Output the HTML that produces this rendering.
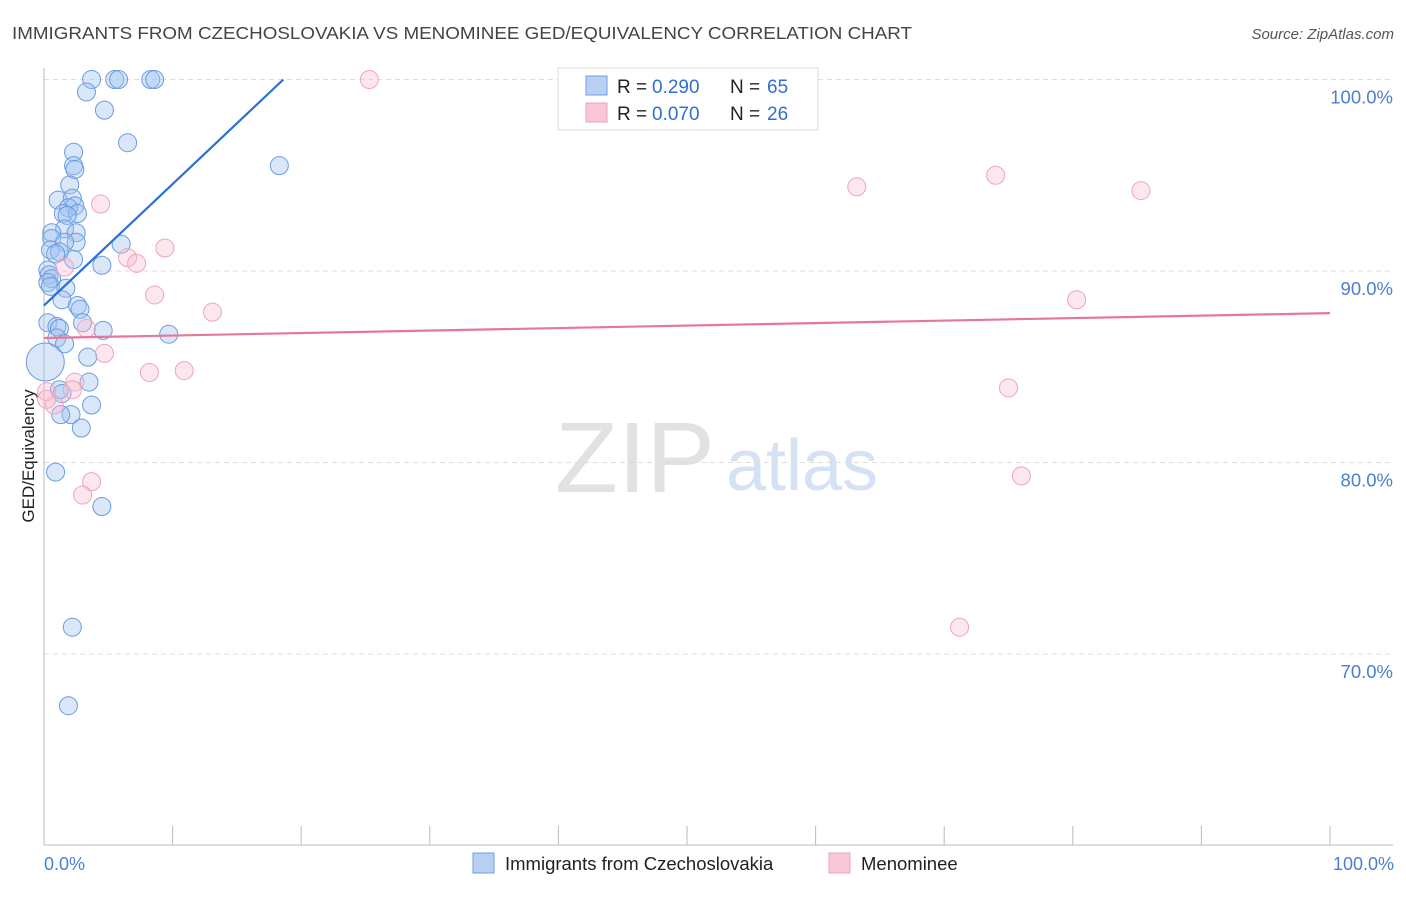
<!DOCTYPE html>
<html><head><meta charset="utf-8"><style>
body{margin:0;background:#fff;font-family:"Liberation Sans",sans-serif;}
svg text{font-family:"Liberation Sans",sans-serif;}
</style></head><body>
<svg id="c" width="1406" height="892" xmlns="http://www.w3.org/2000/svg">
<text x="12" y="39" font-size="17.5" fill="#444" textLength="900" lengthAdjust="spacingAndGlyphs">IMMIGRANTS FROM CZECHOSLOVAKIA VS MENOMINEE GED/EQUIVALENCY CORRELATION CHART</text>
<text x="1394" y="39" font-size="15" fill="#555" font-style="italic" text-anchor="end">Source: ZipAtlas.com</text>
<text x="635" y="492" font-size="100" fill="#e2e2e2" font-family="Liberation Serif" text-anchor="middle" textLength="160" lengthAdjust="spacingAndGlyphs">ZIP</text>
<text x="802" y="490" font-size="72" fill="#d4e2f4" text-anchor="middle">atlas</text>
<g id="grid"></g><g id="axes"></g><g id="pts"></g><g id="lines"></g>
<text transform="translate(34,456) rotate(-90)" font-size="17" fill="#222" text-anchor="middle">GED/Equivalency</text>
<text x="44" y="870" font-size="18" fill="#4a7fd4">0.0%</text>
<text x="1394" y="870" font-size="18" fill="#4a7fd4" text-anchor="end">100.0%</text>
<g>
<rect x="558" y="68" width="260" height="62" fill="#fff" stroke="#ddd"/>
<rect x="586" y="76" width="21" height="19" fill="#b8d0f2" stroke="#6d9ee0"/>
<rect x="586" y="103" width="21" height="19" fill="#f8c8d6" stroke="#eea0b8"/>
<text x="617" y="93" font-size="19" fill="#222">R =</text>
<text x="652" y="93" font-size="19" fill="#2f6fd0">0.290</text>
<text x="730" y="93" font-size="19" fill="#222">N =</text>
<text x="767" y="93" font-size="19" fill="#2f6fd0">65</text>
<text x="617" y="120" font-size="19" fill="#222">R =</text>
<text x="652" y="120" font-size="19" fill="#2f6fd0">0.070</text>
<text x="730" y="120" font-size="19" fill="#222">N =</text>
<text x="767" y="120" font-size="19" fill="#2f6fd0">26</text>
</g>
<g>
<rect x="473" y="853" width="21" height="20" fill="#b8d0f2" stroke="#6d9ee0"/>
<text x="505" y="870" font-size="18.5" fill="#222">Immigrants from Czechoslovakia</text></g>
<g>
<rect x="829" y="853" width="21" height="20" fill="#f8c8d6" stroke="#eea0b8"/>
<text x="861" y="870" font-size="18.5" fill="#222">Menominee</text></g>
</svg>
<script>
const blueX=[3.7,5.5,5.8,8.3,8.6,3.3,4.7,6.5,18.3,2.3,2.3,2.4,2.0,1.1,2.2,2.4,1.9,1.5,2.6,1.8,1.6,2.5,0.6,0.6,2.5,1.6,0.5,1.2,0.9,2.3,6.0,4.5,0.3,0.4,0.6,0.3,0.5,1.7,1.4,2.6,2.8,3.0,0.3,1.0,1.2,4.6,9.7,1.0,1.6,3.4,0.1,3.5,1.2,1.4,3.7,2.1,1.3,2.9,0.9,4.5,2.2,1.9];
const blueY=[100,100,100,100,100,99.35,98.4,96.7,95.5,96.2,95.5,95.3,94.5,93.7,93.8,93.4,93.3,93.0,93.0,92.9,92.2,92.0,92.0,91.7,91.5,91.5,91.1,91.0,90.9,90.6,91.4,90.3,90.05,89.8,89.6,89.4,89.2,89.1,88.5,88.2,88.0,87.3,87.3,87.1,87.0,86.9,86.7,86.5,86.2,85.5,85.25,84.2,83.8,83.6,83.0,82.5,82.5,81.8,79.5,77.7,71.4,67.3];
const pinkX=[25.3,4.4,9.4,6.5,7.2,8.6,13.1,3.3,4.7,8.2,10.9,2.4,2.2,0.2,0.8,3.7,3.0,63.2,74.0,85.3,80.3,75.0,76.0,71.2,1.6,0.2];
const pinkY=[100,93.5,91.2,90.7,90.4,88.75,87.85,87.0,85.7,84.7,84.8,84.2,83.8,83.7,83.0,79.0,78.3,94.4,95.0,94.2,88.5,83.9,79.3,71.4,90.2,83.3];
const yTicks=[100,90,80,70];
const blueTrend=[88.2,151.6];
const pinkTrend=[86.5,87.8];
const NS="http://www.w3.org/2000/svg";
const X=v=>44+v*12.86, Y=v=>79.5+(100-v)*19.15;
function mk(t,a,p){const e=document.createElementNS(NS,t);for(const k in a)e.setAttribute(k,a[k]);document.getElementById(p).appendChild(e);return e;}
yTicks.forEach(t=>{
 const l=mk('line',{x1:44,x2:1393,y1:Y(t),y2:Y(t),stroke:'#ddd','stroke-dasharray':'5,4'},'grid');
 
 
 const tx=mk('text',{x:1393,y:Y(t)+24,'font-size':18.5,fill:'#4a7fd4','text-anchor':'end'},'grid');
 tx.textContent=t.toFixed(1)+'%';
 
 
});
mk('line',{x1:44,x2:44,y1:68,y2:845,stroke:'#bbb'},'axes');
mk('line',{x1:44,x2:1393,y1:845,y2:845,stroke:'#bbb'},'axes');
for(let i=0;i<=10;i++){const t=mk('line',{x1:X(i*10),x2:X(i*10),y1:826,y2:845,stroke:'#bbb'},'axes');
 
 }
blueX.forEach((x,i)=>{const big=(i==50);
 const c=mk('circle',{cx:X(x),cy:Y(blueY[i]),r:big?19:9,fill:'rgba(160,195,240,0.4)',stroke:'#6a9ce0','stroke-width':1},'pts');
 
 });
pinkX.forEach((x,i)=>{const c=mk('circle',{cx:X(x),cy:Y(pinkY[i]),r:9,fill:'rgba(248,185,205,0.35)',stroke:'#f0a4bc','stroke-width':1},'pts');
 
 });
const bx2=(100-blueTrend[0])/(blueTrend[1]-blueTrend[0])*100;
const bl=mk('line',{x1:X(0),y1:Y(blueTrend[0]),x2:X(bx2),y2:Y(100),stroke:'#2a6fd6','stroke-width':2.2},'lines');


const pl=mk('line',{x1:X(0),y1:Y(pinkTrend[0]),x2:X(100),y2:Y(pinkTrend[1]),stroke:'#e8769a','stroke-width':2.2},'lines');


</script>
</body></html>
